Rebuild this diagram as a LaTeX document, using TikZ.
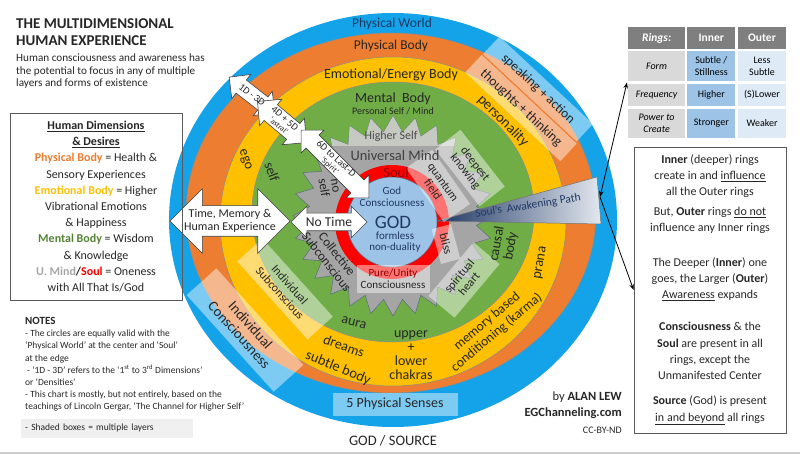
\documentclass[tikz,border=0pt]{standalone}
\usepackage{fontspec}
\setmainfont{Carlito}
\usetikzlibrary{arrows.meta, positioning, shapes.arrows}

\definecolor{worldblue}{HTML}{14A2E8}
\definecolor{bodyorange}{HTML}{ED7D31}
\definecolor{emoyellow}{HTML}{FFC000}
\definecolor{mentgreen}{HTML}{70AD47}
\definecolor{mentdark}{HTML}{548235}
\definecolor{mindgray}{HTML}{A5A5A5}
\definecolor{highgray}{HTML}{C6C9C2}
\definecolor{starline}{HTML}{5B6B7F}
\definecolor{soulred}{HTML}{FF0000}
\definecolor{souldark}{HTML}{8B0000}
\definecolor{godblue}{HTML}{9DC3E6}
\definecolor{navy}{HTML}{1F3864}
\definecolor{pathnavy}{HTML}{203864}
\definecolor{pathlight}{HTML}{E3E8EF}
\definecolor{txtdark}{HTML}{262626}
\definecolor{tabhead}{HTML}{7F7F7F}
\definecolor{tabgray}{HTML}{D9D9D9}
\definecolor{tabblue}{HTML}{9DC3E6}
\definecolor{tablight}{HTML}{DEEBF7}

\newcommand{\fsz}[2]{\fontsize{#1}{#2}\selectfont}

\begin{document}
\begin{tikzpicture}[x=1pt, y=-1pt,
  ring/.style={draw=black!45, line width=0.5pt},
  ringtext/.style={text=txtdark, align=center, inner sep=0pt},
  shadebox/.style={fill=white, fill opacity=0.45, text opacity=1, text=txtdark,
    align=center, inner sep=0pt},
  dimarrow/.style={double arrow, draw=black!75, fill=white, line width=0.6pt,
    inner xsep=0pt, double arrow head extend=7pt},
  cell/.style={rectangle, draw=white, line width=1.2pt, align=center,
    inner sep=0pt, font=\fsz{10}{11.5}},
  infobox/.style={rectangle, draw=black!65, line width=0.8pt},
  pointer/.style={line width=0.8pt},
  node distance=0pt
]
\useasboundingbox (0,0) rectangle (800,454);
\draw[black!20, line width=2pt] (0,453) -- (800,453);

% title and intro
\node[anchor=north west, align=left, inner sep=0pt, text=txtdark,
  font=\bfseries\fsz{15}{17}] (title) at (16,18) {THE MULTIDIMENSIONAL\\HUMAN EXPERIENCE};
\node[anchor=north west, align=left, inner sep=0pt, text=txtdark,
  font=\fsz{11.2}{12.3}] (intro) at (16,54) {Human consciousness and awareness has\\
  the potential to focus in any of multiple\\layers and forms of existence};

% rings
\fill[worldblue] (393,220) ellipse [x radius=224, y radius=207];
\draw[ring, fill=bodyorange] (391,213) ellipse [x radius=205, y radius=180];
\draw[ring, fill=emoyellow] (393,221.5) ellipse [x radius=173, y radius=164.5];
\draw[ring, fill=mentgreen] (393,212) ellipse [x radius=141, y radius=130];

% universal mind star
\begin{scope}[shift={(393,216)}]
  \draw[fill=mindgray, draw=starline, line width=0.5pt]
    (0:100) \foreach \k in {1,...,28}{ -- ({\k*360/28-180/28}:84) -- ({\k*360/28}:100)} -- cycle;
  \begin{scope}
    \clip (-120,-125) rectangle (120,-70);
    \fill[highgray]
      (0:100) \foreach \k in {1,...,28}{ -- ({\k*360/28-180/28}:84) -- ({\k*360/28}:100)} -- cycle;
  \end{scope}
\end{scope}

% soul and god
\fill[soulred] (392,222) circle [radius=57];
\shadedraw[draw=black!55, line width=0.5pt, left color=pathnavy, right color=pathlight]
  (437,221) -- (597,177) -- (601,224) -- cycle;
\draw[fill=godblue, draw=starline, line width=0.5pt] (392,222) circle [radius=45];

% shaded boxes
\node[shadebox, rotate=-43, minimum width=128, minimum height=24, font=\fsz{13.5}{14}] (speak) at (538,89) {speaking + action};
\node[shadebox, rotate=-43, minimum width=130, minimum height=24, font=\fsz{13.5}{14}] (thought) at (521,108) {thoughts + thinking};
\node[shadebox, rotate=-48, minimum width=130, minimum height=40, font=\fsz{14.5}{15}] (indcons) at (245,330) {Individual\\Consciousness};
\node[shadebox, rotate=-48, minimum width=105, minimum height=34, font=\fsz{12}{13}] (indsub) at (285,289) {Individual\\Subconscious};
\node[shadebox, rotate=-52, minimum width=72, minimum height=32, font=\fsz{12}{12.5}] (deep) at (470,168) {deepest\\knowing};
\node[shadebox, rotate=-55, minimum width=66, minimum height=32, font=\fsz{12}{12.5}] (quantum) at (438,186) {quantum\\field};
\node[shadebox, rotate=-75, minimum width=36, minimum height=20, font=\fsz{12}{12.5}] (bliss) at (446,244) {bliss};
\node[shadebox, rotate=50, minimum width=70, minimum height=34, font=\fsz{12}{12.5}] (spirit) at (464,280) {spiritual\\heart};
\node[shadebox, minimum width=73, minimum height=28, font=\fsz{11}{12}] (pure) at (393,279) {\textcolor{souldark}{Pure/Unity}\\Consciousness};
\node[shadebox, minimum width=125, minimum height=23, font=\fsz{14}{15}] (senses) at (395,404) {5 Physical Senses};

% dimension arrows
\node[dimarrow, minimum height=120, inner ysep=15pt, double arrow head extend=17pt] (timemem) at (230,221) {};
\node[dimarrow, minimum height=76, inner ysep=8.5pt] (notime) at (329,222) {};
\node[dimarrow, rotate=-38, minimum height=58, inner ysep=8pt] (onethree) at (252,95) {};
\node[dimarrow, rotate=-40, minimum height=64, inner ysep=10pt] (fourfive) at (282,122) {};
\node[dimarrow, rotate=-45, minimum height=96, inner ysep=9pt] (sixlast) at (335,164) {};
\node[ringtext, font=\fsz{12}{13}] at (timemem.center) {Time, Memory \&\\Human Experience};
\node[ringtext, font=\fsz{13.5}{14}] at (notime.center) {No Time};
\node[ringtext, rotate=-38, font=\fsz{10}{11}] at (onethree.center) {1D - 3D};
\node[ringtext, rotate=-40, font=\fsz{10}{9}] at (fourfive.center) {4D + 5D\\{\fsz{8}{8}‘astral’}};
\node[ringtext, rotate=-42, font=\fsz{10}{9}] at ([xshift=-2pt, yshift=2pt]sixlast.center) {6D to Last-D\\{\fsz{8}{8}‘Spirit’}};

% ring labels
\node[ringtext, text=navy, font=\fsz{13.5}{14}] (world) at (392,24) {Physical World};
\node[ringtext, font=\fsz{13.5}{14}] (pbody) at (391,46) {Physical Body};
\node[ringtext, font=\fsz{14}{14}] (ebody) at (391,75) {Emotional/Energy Body};
\node[ringtext, font=\fsz{14}{14}] (mbody) at (393,99) {Mental\ \ Body};
\node[ringtext, font=\fsz{10}{11}] (pself) at (393,111) {Personal Self / Mind};
\node[ringtext, text=black!70, font=\fsz{12}{12}] (hself) at (391,136) {Higher Self};
\node[ringtext, text=black!75, font=\fsz{14.5}{15}] (umind) at (395,156) {Universal Mind};
\node[ringtext, text=souldark, font=\fsz{14.5}{15}] (soul) at (396,173) {Soul};
\node[ringtext, text=navy, font=\fsz{11}{12}] (godcons) at (392,197) {God\\Consciousness};
\node[ringtext, text=navy, font=\fsz{19}{19}] (god) at (393,222) {GOD};
\node[ringtext, text=navy, font=\fsz{11}{11.5}] (formless) at (395,242) {formless\\non-duality};
\node[ringtext, rotate=-45, font=\fsz{14.5}{15}] (person) at (503,121) {personality};
\node[ringtext, rotate=-70, font=\fsz{14}{14}] (ego) at (245,160) {ego};
\node[ringtext, rotate=-70, font=\fsz{14}{14}] (self) at (272,172) {self};
\node[ringtext, rotate=-80, font=\fsz{13}{12}] (noself) at (329,187) {no\\self};
\node[ringtext, rotate=-52, font=\fsz{13}{13}] (collect) at (332,258) {Collective\\Subconscious};
\node[ringtext, rotate=80, font=\fsz{14}{14}] (causal) at (504,245) {causal\\body};
\node[ringtext, rotate=80, font=\fsz{14}{14}] (prana) at (541,263) {prana};
\node[ringtext, rotate=40, font=\fsz{13.5}{15}] (karma) at (492,327) {memory based\\conditioning (karma)};
\node[ringtext, font=\fsz{14}{14}] (chakras) at (411,355) {upper\\+\\lower\\chakras};
\node[ringtext, rotate=-15, font=\fsz{14}{14}] (aura) at (354,323) {aura};
\node[ringtext, rotate=-20, font=\fsz{14}{14}] (dreams) at (344,346) {dreams};
\node[ringtext, rotate=-22, font=\fsz{14.5}{15}] (subtle) at (338,368) {subtle body};
\node[ringtext, rotate=9, text=navy, font=\fsz{11.5}{12}] (awaken) at (528,206) {Soul’s\ \ Awakening Path};

% left box
\node[infobox, minimum width=172, minimum height=187] (dimbox) at (96,206.5) {};
\node[ringtext, font=\fsz{12}{16.2}] (dimtext) at (dimbox.center) {%
  \textbf{\underline{Human Dimensions}}\\
  \textbf{\underline{\& Desires}}\\
  \textbf{\textcolor{bodyorange}{Physical Body}} = Health \&\\
  Sensory Experiences\\
  \textbf{\textcolor{emoyellow}{Emotional Body}} = Higher\\
  Vibrational Emotions\\
  \& Happiness\\
  \textbf{\textcolor{mentdark}{Mental Body}} = Wisdom\\
  \& Knowledge\\
  \textbf{\textcolor{mindgray}{U. Mind}/\textcolor{soulred}{Soul}} = Oneness\\
  with All That Is/God};

% notes
\node[anchor=north west, align=left, inner sep=0pt, text=txtdark,
  font=\fsz{9.5}{12.2}] (notes) at (25,317) {%
  {\bfseries\fsz{11}{12.2}NOTES}\\
  - The circles are equally valid with the\\
  ‘Physical World’ at the center and ‘Soul’\\
  at the edge\\
  \hspace*{2pt}- ‘1D - 3D’ refers to the ‘1\textsuperscript{st} to 3\textsuperscript{rd} Dimensions’\\
  or ‘Densities’\\
  - This chart is mostly, but not entirely, based on the\\
  teachings of Lincoln Gergar, ‘The Channel for Higher Self’};
\node[fill=black!6, anchor=west, text width=164, inner xsep=4pt, minimum height=19,
  text=txtdark, font=\fsz{9.5}{11}] (shadenote) at (21,428) {- Shaded boxes = multiple layers};

% table
\node[cell, fill=tabhead, text=white, minimum width=58, minimum height=23, anchor=north west,
  font=\bfseries\itshape\fsz{11.5}{12}] (hdrrings) at (627,26) {Rings:};
\node[cell, fill=tabhead, text=white, minimum width=49, minimum height=23, right=of hdrrings,
  font=\bfseries\fsz{11.5}{12}] (hdrinner) {Inner};
\node[cell, fill=tabhead, text=white, minimum width=50, minimum height=23, right=of hdrinner,
  font=\bfseries\fsz{11.5}{12}] (hdrouter) {Outer};
\node[cell, fill=tabgray, minimum width=58, minimum height=31, below=of hdrrings, font=\itshape\fsz{10}{11.5}] (formlbl) {Form};
\node[cell, fill=tabblue, minimum width=49, minimum height=31, right=of formlbl] (forminner) {Subtle /\\Stillness};
\node[cell, fill=tablight, minimum width=50, minimum height=31, right=of forminner] (formouter) {Less\\Subtle};
\node[cell, fill=tabgray, minimum width=58, minimum height=24, below=of formlbl, font=\itshape\fsz{10}{11.5}] (freqlbl) {Frequency};
\node[cell, fill=tabblue, minimum width=49, minimum height=24, right=of freqlbl] (freqinner) {Higher};
\node[cell, fill=tablight, minimum width=50, minimum height=24, right=of freqinner] (freqouter) {(S)Lower};
\node[cell, fill=tabgray, minimum width=58, minimum height=30, below=of freqlbl, font=\itshape\fsz{10}{11.5}] (powerlbl) {Power to\\Create};
\node[cell, fill=tabblue, minimum width=49, minimum height=30, right=of powerlbl] (powerinner) {Stronger};
\node[cell, fill=tablight, minimum width=50, minimum height=30, right=of powerinner] (powerouter) {Weaker};

% right box
\node[infobox, minimum width=152, minimum height=286] (rightbox) at (710,290) {};
\node[ringtext, font=\fsz{12}{16.2}] (rbinner) at (710,176) {\textbf{Inner} (deeper) rings\\create in and \underline{influence}\\all the Outer rings};
\node[ringtext, font=\fsz{12}{16.2}] (rbouter) at (710,220.5) {But, \textbf{Outer} rings \underline{do not}\\influence any Inner rings};
\node[ringtext, font=\fsz{12}{16.2}] (rbdeeper) at (710,279) {The Deeper (\textbf{Inner}) one\\goes, the Larger (\textbf{Outer})\\\underline{Awareness} expands};
\node[ringtext, font=\fsz{12}{16.2}] (rbcons) at (710,351) {\textbf{Consciousness} \& the\\\textbf{Soul} are present in all\\rings, except the\\Unmanifested Center};
\node[ringtext, font=\fsz{12}{16.2}] (rbsource) at (710,410.5) {\textbf{Source} (God) is present\\\underline{in and beyond} all rings};

% pointers
\coordinate (pathtip) at (600,197);
\draw[pointer, {Stealth[length=6pt]}-{Stealth[length=6pt]}] (pathtip) -- (formlbl.south west);
\draw[pointer, -{Stealth[length=6pt]}] (pathtip) -- (rightbox.west);

% footer
\node[ringtext, font=\fsz{14.5}{15}] (source) at (393,441) {GOD / SOURCE};
\node[anchor=east, inner sep=0pt, text=txtdark, font=\fsz{12.5}{13}] (byline) at (622,397) {by \textbf{ALAN LEW}};
\node[anchor=east, inner sep=0pt, text=txtdark, font=\bfseries\fsz{12.5}{13}] (site) at (622,413) {EGChanneling.com};
\node[anchor=east, inner sep=0pt, text=txtdark, font=\fsz{10}{11}] (licence) at (622,430) {CC-BY-ND};
\end{tikzpicture}
\end{document}
